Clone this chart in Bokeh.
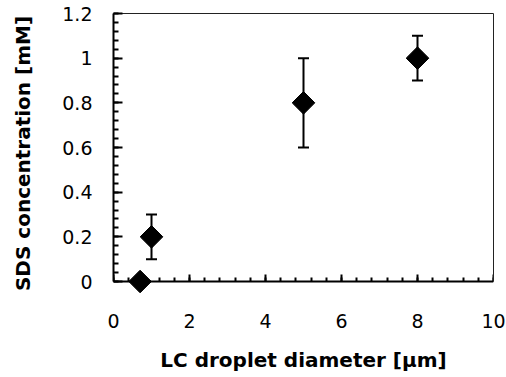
import math
from bokeh.plotting import figure
from bokeh.models import (ColumnDataSource, Whisker, TeeHead, FixedTicker,
                          LinearAxis, Range1d)
from bokeh.embed import file_html
from bokeh.resources import INLINE

# ---- data ----
diameter = [0.7, 1.0, 5.0, 8.0]          # LC droplet diameter [um]
sds = [0.0, 0.2, 0.8, 1.0]               # SDS concentration [mM]
sds_err = [0.0, 0.1, 0.2, 0.1]           # error bar half-length [mM]

x_ticks = [0, 2, 4, 6, 8, 10]
x_tick_labels = ["0", "2", "4", "6", "8", "10"]
x_minor_ticks = [round(0.4 * i, 2) for i in range(26)]
y_ticks = [0, 0.2, 0.4, 0.6, 0.8, 1.0, 1.2]
y_tick_labels = ["0", "0.2", "0.4", "0.6", "0.8", "1", "1.2"]
y_minor_ticks = [round(0.04 * i, 2) for i in range(31)]

x_label = "LC droplet diameter [μm]"
y_label = "SDS concentration [mM]"

pts = ColumnDataSource(dict(x=diameter, y=sds))
err_x = [d for d, e in zip(diameter, sds_err) if e > 0]
err_lo = [s - e for s, e in zip(sds, sds_err) if e > 0]
err_hi = [s + e for s, e in zip(sds, sds_err) if e > 0]
errs = ColumnDataSource(dict(x=err_x, lower=err_lo, upper=err_hi))

TICK_FONT = "DejaVu Sans"
LABEL_FONT = "DejaVu Sans"

p = figure(width=506, height=377, output_backend="svg", toolbar_location=None,
           x_range=Range1d(0, 10), y_range=Range1d(-0.0537, 1.2),
           x_axis_location=None, y_axis_location=None,
           min_border_left=113, min_border_right=13,
           min_border_top=13, min_border_bottom=84)
p.outline_line_color = None
p.background_fill_color = "white"
p.border_fill_color = "white"
p.xgrid.visible = False
p.ygrid.visible = False


def bare_axis(**kw):
    ax = LinearAxis(**kw)
    ax.major_tick_in = 0
    ax.major_tick_out = 0
    ax.minor_tick_in = 0
    ax.minor_tick_out = 0
    return ax


# bottom axis line + ticks at y = 0 (no labels: ticks passed as minor ticks)
xminor = bare_axis(fixed_location=0, bounds=(0, 10),
                   ticker=FixedTicker(ticks=[], minor_ticks=x_minor_ticks))
xminor.axis_line_width = 2
xminor.axis_line_color = "black"
xminor.minor_tick_in = 4
xminor.minor_tick_line_width = 2
p.add_layout(xminor, "below")

xmajor = bare_axis(fixed_location=0, bounds=(0, 10),
                   ticker=FixedTicker(ticks=[], minor_ticks=x_ticks))
xmajor.axis_line_color = None
xmajor.minor_tick_in = 7
xmajor.minor_tick_line_width = 2
p.add_layout(xmajor, "below")

# bottom tick labels + axis title (axis at frame edge, no line / ticks)
xlab = bare_axis(ticker=FixedTicker(ticks=x_ticks),
                 major_label_overrides=dict(zip(x_ticks, x_tick_labels)),
                 axis_label=x_label)
xlab.axis_line_color = None
xlab.major_tick_line_color = None
xlab.minor_tick_line_color = None
xlab.major_label_standoff = 20
xlab.major_label_text_font = TICK_FONT
xlab.major_label_text_font_size = "19px"
xlab.major_label_text_color = "black"
xlab.axis_label_standoff = 17
xlab.axis_label_text_font = LABEL_FONT
xlab.axis_label_text_font_size = "20px"
xlab.axis_label_text_font_style = "bold"
xlab.axis_label_text_color = "black"
p.add_layout(xlab, "below")

# left axis
yaxis = LinearAxis(ticker=FixedTicker(ticks=y_ticks, minor_ticks=y_minor_ticks),
                   major_label_overrides=dict(zip(y_ticks, y_tick_labels)),
                   bounds=(0, 1.2), axis_label=y_label)
yaxis.axis_line_width = 2
yaxis.axis_line_color = "black"
yaxis.major_tick_in = 9
yaxis.major_tick_out = 0
yaxis.minor_tick_in = 5
yaxis.minor_tick_out = 0
yaxis.major_tick_line_width = 2
yaxis.minor_tick_line_width = 2
yaxis.major_label_standoff = 21
yaxis.major_label_text_font = TICK_FONT
yaxis.major_label_text_font_size = "19px"
yaxis.major_label_text_color = "black"
yaxis.axis_label_standoff = 24
yaxis.axis_label_text_font = LABEL_FONT
yaxis.axis_label_text_font_size = "20px"
yaxis.axis_label_text_font_style = "bold"
yaxis.axis_label_text_color = "black"
p.add_layout(yaxis, "left")

# thin frame lines on top and right
for loc, bnd in (("above", (0, 10)), ("right", (0, 1.2))):
    ax = bare_axis(ticker=FixedTicker(ticks=[]), bounds=bnd)
    ax.major_label_standoff = 0
    ax.axis_line_width = 1
    ax.axis_line_color = "#222222"
    p.add_layout(ax, loc)

# error bars
p.add_layout(Whisker(base="x", lower="lower", upper="upper", source=errs,
                     line_color="black", line_width=2,
                     upper_head=TeeHead(size=11, line_width=2, line_color="black"),
                     lower_head=TeeHead(size=11, line_width=2, line_color="black")))

# diamonds
p.scatter("x", "y", source=pts, marker="square", angle=math.pi / 4, size=16,
          fill_color="black", line_color="black")

open("out.html", "w").write(file_html(p, INLINE))
